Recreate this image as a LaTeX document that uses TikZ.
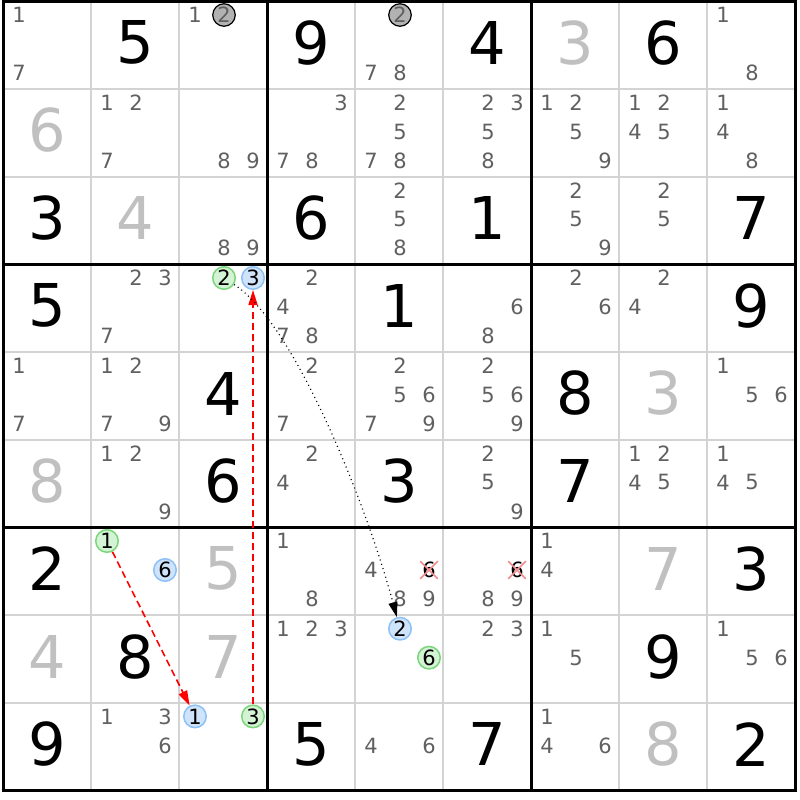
\documentclass[tikz,border=0pt]{standalone}
\usepackage{fontspec}
\setmainfont{DejaVu Sans}
\usepackage{tikz}
\usetikzlibrary{arrows.meta, calc, shapes.misc}
\definecolor{candgray}{RGB}{96,96,96}
\definecolor{solvedgray}{RGB}{192,192,192}
\definecolor{thingrid}{RGB}{211,211,211}
\definecolor{greenfill}{RGB}{212,243,212}
\definecolor{greenline}{RGB}{122,214,122}
\definecolor{bluefill}{RGB}{207,228,251}
\definecolor{blueline}{RGB}{140,192,246}
\definecolor{markfill}{RGB}{178,178,178}
\definecolor{crossred}{RGB}{242,140,140}
\pgfdeclarelayer{front}
\pgfsetlayers{main,front}
\tikzstyle{given}=[%
      font=\fontsize{59}{59}\selectfont, text=black, inner sep=0pt
]
\tikzstyle{solved}=[given, text=solvedgray]
\tikzstyle{cand}=[%
      font=\fontsize{21}{21}\selectfont, text=candgray, inner sep=0pt
]
\tikzstyle{ring}=[%
      circle, cand, text=black, line width=1.5pt, minimum size=22.5pt, inner sep=0pt
]
\tikzstyle{greencand}=[ring, draw=greenline, fill=greenfill]
\tikzstyle{bluecand}=[ring, draw=blueline, fill=bluefill]
\tikzstyle{graycand}=[ring, draw=black, fill=markfill, line width=1.2pt, text=candgray]
\tikzstyle{crossed}=[cand, text=black, cross out, draw=crossred, line width=1.6pt,
      minimum width=16pt, minimum height=16pt]
\tikzstyle{stronglink}=[red, line width=1.6pt, dash pattern=on 7pt off 4pt,
      -{Triangle[length=15pt,width=9pt]}]
\tikzstyle{weaklink}=[black, line width=1.2pt, dash pattern=on 1pt off 3.5pt,
      -{Triangle[length=15pt,width=9pt]}]

\begin{document}
\begin{tikzpicture}[x=1pt, y=-1pt]
    \useasboundingbox (0,0) rectangle (800,800);

    % grid
    \foreach \i in {0,...,9} {
      \draw[thingrid, line width=1.5pt] ({3+88*\i},1.5) -- ({3+88*\i},790.5);
      \draw[thingrid, line width=1.5pt] (3,{1.5+87.67*\i}) -- (795,{1.5+87.67*\i});
    }
    \foreach \i in {0,3,6,9} {
      \draw[black, line width=3pt] ({3+88*\i},0) -- ({3+88*\i},792);
      \draw[black, line width=3pt] (1.5,{1.5+87.67*\i}) -- (796.5,{1.5+87.67*\i});
    }

    % big digits
    \foreach \r/\c/\d in {1/2/5, 1/4/9, 1/6/4, 1/8/6, 3/1/3, 3/4/6, 3/6/1, 3/9/7,
        4/1/5, 4/5/1, 4/9/9, 5/3/4, 5/7/8, 6/3/6, 6/5/3, 6/7/7, 7/1/2, 7/9/3,
        8/2/8, 8/8/9, 9/1/9, 9/4/5, 9/6/7, 9/9/2}
      \node[given] (v\r\c) at ({3+88*(\c-0.5)},{-1+87.67*(\r-0.5)}) {\d};
    \foreach \r/\c/\d in {1/7/3, 2/1/6, 3/2/4, 5/8/3, 6/1/8, 7/3/5, 7/8/7,
        8/1/4, 8/3/7, 9/8/8}
      \node[solved] (v\r\c) at ({3+88*(\c-0.5)},{-1+87.67*(\r-0.5)}) {\d};

    % candidates
    \foreach \r/\c/\ds in {1/1/{1,7}, 1/3/{1}, 1/5/{7,8}, 1/9/{1,8},
        2/2/{1,2,7}, 2/3/{8,9}, 2/4/{3,7,8}, 2/5/{2,5,7,8}, 2/6/{2,3,5,8},
        2/7/{1,2,5,9}, 2/8/{1,2,4,5}, 2/9/{1,4,8},
        3/3/{8,9}, 3/5/{2,5,8}, 3/7/{2,5,9}, 3/8/{2,5},
        4/2/{2,3,7}, 4/4/{2,4,7,8}, 4/6/{6,8}, 4/7/{2,6}, 4/8/{2,4},
        5/1/{1,7}, 5/2/{1,2,7,9}, 5/4/{2,7}, 5/5/{2,5,6,7,9}, 5/6/{2,5,6,9}, 5/9/{1,5,6},
        6/2/{1,2,9}, 6/4/{2,4}, 6/6/{2,5,9}, 6/8/{1,2,4,5}, 6/9/{1,4,5},
        7/4/{1,8}, 7/5/{4,8,9}, 7/6/{8,9}, 7/7/{1,4},
        8/4/{1,2,3}, 8/6/{2,3}, 8/7/{1,5}, 8/9/{1,5,6},
        9/2/{1,3,6}, 9/5/{4,6}, 9/7/{1,4,6}} {
      \foreach \d in \ds {
        \pgfmathsetmacro\px{19+88*(\c-1)+29*mod(\d-1,3)}
        \pgfmathsetmacro\py{15+87.67*(\r-1)+29*floor((\d-1)/3)}
        \node[cand] (n\r\c\d) at (\px,\py) {\d};
      }
    }

    % eliminated candidates
    \node[crossed] (x756) at (429,570) {6};
    \node[crossed] (x766) at (517,570) {6};

    % marked candidates
    \begin{pgfonlayer}{front}
    \node[graycand]  (m132) at (224,15)    {2};
    \node[graycand]  (m152) at (400,15)    {2};
    \node[greencand] (g2)   at (224,278)   {2};
    \node[bluecand]  (b3)   at (253,278)   {3};
    \node[greencand] (g1)   at (107,541)   {1};
    \node[bluecand]  (b6)   at (165,570)   {6};
    \node[bluecand]  (b2)   at (400,628.7) {2};
    \node[greencand] (g6)   at (429,657.7) {6};
    \node[bluecand]  (b1)   at (195,716.4) {1};
    \node[greencand] (g3)   at (253,716.4) {3};
    \end{pgfonlayer}

    % links
    \draw[stronglink] (g1) -- (b1);
    \draw[stronglink] (g3) -- (b3);
    \draw[weaklink] (g2) .. controls ($(g2)+(70,45)$) and ($(b2)+(-34,-126)$) .. (b2);

\end{tikzpicture}
\end{document}
